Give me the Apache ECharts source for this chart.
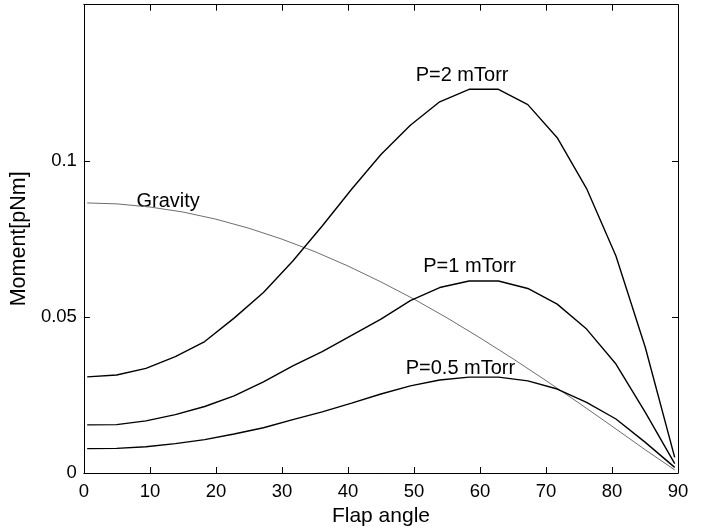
<!DOCTYPE html>
<html>
<head>
<meta charset="utf-8">
<script src="https://cdn.jsdelivr.net/npm/echarts@6/dist/echarts.min.js"></script>
<style>
html,body{margin:0;padding:0;background:#fff;}
#chart{width:702px;height:532px;}
</style>
</head>
<body>
<div id="chart"></div>
<script>
// Flap angle samples for the pressure curves (degrees)
const angles = [0.5, 4.95, 9.4, 13.85, 18.3, 22.75, 27.2, 31.65, 36.1, 40.55, 45, 49.45, 53.9, 58.35, 62.8, 67.25, 71.7, 76.15, 80.6, 85.05, 89.5];
const p2 = [0.0308, 0.0314, 0.0335, 0.0373, 0.0421, 0.0496, 0.0578, 0.0679, 0.0791, 0.0909, 0.1020, 0.1114, 0.1189, 0.1229, 0.1229, 0.1180, 0.1074, 0.0911, 0.0695, 0.0402, 0.0050];
const p1 = [0.0154, 0.0155, 0.0167, 0.0187, 0.0213, 0.0247, 0.0292, 0.0343, 0.0389, 0.0441, 0.0493, 0.0552, 0.0594, 0.0615, 0.0615, 0.0591, 0.0541, 0.0461, 0.0349, 0.0194, 0.0030];
const p05 = [0.0078, 0.0079, 0.0084, 0.0094, 0.0107, 0.0125, 0.0145, 0.0171, 0.0196, 0.0224, 0.0253, 0.0279, 0.0298, 0.0307, 0.0307, 0.0295, 0.0269, 0.0226, 0.0173, 0.0098, 0.0018];
// Gravity curve
const gravAngles = [0.5, 5, 10, 15, 20, 25, 30, 35, 40, 45, 50, 55, 60, 65, 70, 75, 80, 85, 89.5];
const gravity = [0.0865, 0.0862, 0.0852, 0.0836, 0.0813, 0.0784, 0.0749, 0.0709, 0.0663, 0.0612, 0.0557, 0.0497, 0.0433, 0.0366, 0.0296, 0.0224, 0.0150, 0.0075, 0.0010];
// Axis ticks
const xTicks = [0, 10, 20, 30, 40, 50, 60, 70, 80, 90];
const yTickLabels = ['0', '0.05', '0.1'];
// Curve labels
const labelTexts = ['P=2 mTorr', 'P=1 mTorr', 'P=0.5 mTorr', 'Gravity'];
const labelAnchors = [[50.26, 0.1274], [51.4, 0.0662], [48.75, 0.0336], [7.97, 0.0869]];

const font = '"Liberation Sans", Arial, Helvetica, sans-serif';
const pair = (xs, ys) => xs.map((x, i) => [x, ys[i]]);

const chart = echarts.init(document.getElementById('chart'), null, {renderer: 'canvas'});

const yFmt = v => {
  const s = String(Math.round(v * 1000) / 1000);
  return yTickLabels.indexOf(s) >= 0 ? s : '';
};

const axisLineStyle = {color: '#000', width: 1};
const commonX = {
  type: 'value', min: xTicks[0], max: xTicks[xTicks.length - 1], interval: 10,
  splitLine: {show: false},
  axisLine: {show: true, onZero: false, lineStyle: axisLineStyle},
  axisTick: {show: true, inside: true, length: 6, lineStyle: axisLineStyle}
};
const commonY = {
  type: 'value', min: 0, max: 0.15, interval: 0.05,
  splitLine: {show: false},
  axisLine: {show: true, onZero: false, lineStyle: axisLineStyle},
  axisTick: {show: true, inside: true, length: 6, lineStyle: axisLineStyle}
};

const lineSeries = (name, data, color, width) => ({
  name, type: 'line', data, showSymbol: false, symbol: 'none',
  lineStyle: {color, width}, smooth: false, silent: true, animation: false,
  xAxisIndex: 0, yAxisIndex: 0
});

chart.setOption({
  animation: false,
  backgroundColor: '#fff',
  grid: {left: 82.3, right: 24, top: 4.7, bottom: 58, containLabel: false},
  xAxis: [
    Object.assign({}, commonX, {
      position: 'bottom',
      axisLabel: {show: true, color: '#000', fontSize: 18.5, fontFamily: font, margin: 9},
      name: 'Flap angle', nameLocation: 'middle', nameGap: 33,
      nameTextStyle: {color: '#000', fontSize: 21, fontFamily: font}
    }),
    Object.assign({}, commonX, {position: 'top', axisLabel: {show: false}})
  ],
  yAxis: [
    Object.assign({}, commonY, {
      position: 'left',
      axisLabel: {show: true, color: '#000', fontSize: 18.5, fontFamily: font, margin: 7, formatter: yFmt},
      name: 'Moment[pNm]', nameLocation: 'middle', nameGap: 49,
      nameTextStyle: {color: '#000', fontSize: 21.5, fontFamily: font}
    }),
    Object.assign({}, commonY, {position: 'right', axisLabel: {show: false}})
  ],
  series: [
    lineSeries('Gravity', pair(gravAngles, gravity), '#6e6e6e', 1),
    lineSeries('P=2 mTorr', pair(angles, p2), '#000', 1.4),
    lineSeries('P=1 mTorr', pair(angles, p1), '#000', 1.4),
    lineSeries('P=0.5 mTorr', pair(angles, p05), '#000', 1.4)
  ]
});

const texts = labelTexts.map((t, i) => {
  const p = chart.convertToPixel({xAxisIndex: 0, yAxisIndex: 0}, labelAnchors[i]);
  return {
    type: 'text', x: p[0], y: p[1], silent: true,
    style: {text: t, fill: '#000', font: '20px ' + font, textAlign: 'left', textVerticalAlign: 'middle'}
  };
});
chart.setOption({graphic: texts});
</script>
</body>
</html>
